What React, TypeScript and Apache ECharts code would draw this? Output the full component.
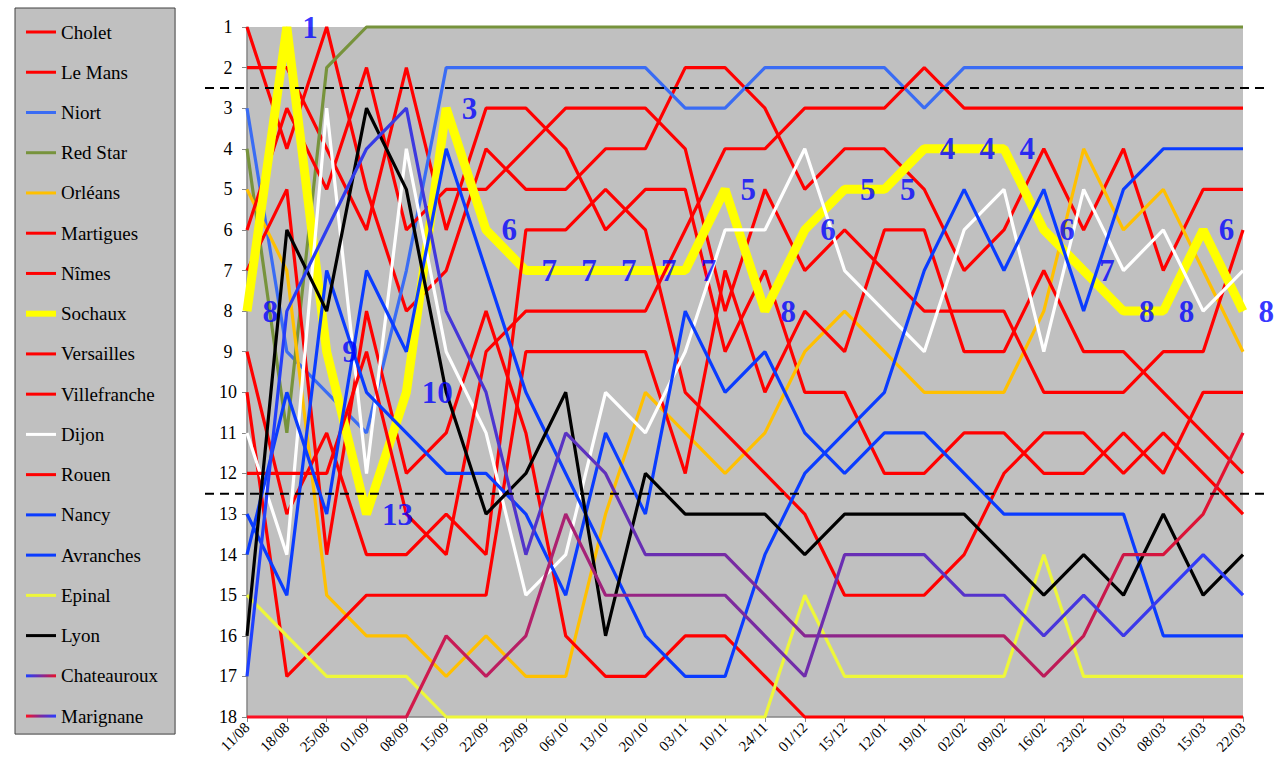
import React, { useEffect, useRef } from "react";
import * as echarts from "echarts";

// Championnat National: rank of every club at each matchday
const dates = [
  "11/08", "18/08", "25/08", "01/09", "08/09", "15/09", "22/09", "29/09", "06/10", "13/10",
  "20/10", "03/11", "10/11", "24/11", "01/12", "15/12", "12/01", "19/01", "02/02", "09/02",
  "16/02", "23/02", "01/03", "08/03", "15/03", "22/03",
];

const cholet = [1, 4, 1, 5, 8, 7, 4, 5, 5, 4, 4, 2, 2, 3, 5, 4, 4, 5, 7, 6, 4, 6, 4, 7, 5, 5];
const leMans = [2, 2, 4, 6, 2, 6, 3, 3, 4, 6, 5, 5, 9, 7, 10, 10, 12, 12, 11, 11, 12, 12, 11, 12, 10, 10];
const niort = [3, 9, 10, 11, 7, 2, 2, 2, 2, 2, 2, 3, 3, 2, 2, 2, 2, 3, 2, 2, 2, 2, 2, 2, 2, 2];
const redStar = [4, 11, 2, 1, 1, 1, 1, 1, 1, 1, 1, 1, 1, 1, 1, 1, 1, 1, 1, 1, 1, 1, 1, 1, 1, 1];
const orleans = [5, 7, 15, 16, 16, 17, 16, 17, 17, 13, 10, 11, 12, 11, 9, 8, 9, 10, 10, 10, 8, 4, 6, 5, 7, 9];
const martigues = [6, 3, 5, 2, 6, 5, 5, 4, 3, 3, 3, 4, 8, 5, 7, 6, 7, 8, 8, 8, 10, 10, 10, 9, 9, 6];
const nimes = [7, 5, 14, 8, 12, 11, 8, 11, 16, 17, 17, 16, 16, 17, 18, 18, 18, 18, 18, 18, 18, 18, 18, 18, 18, 18];
const sochaux = [8, 1, 9, 13, 10, 3, 6, 7, 7, 7, 7, 7, 5, 8, 6, 5, 5, 4, 4, 4, 6, 7, 8, 8, 6, 8];
const versailles = [9, 13, 11, 14, 14, 13, 14, 6, 6, 5, 6, 10, 11, 12, 13, 15, 15, 15, 14, 12, 11, 11, 12, 11, 12, 13];
const villefranche = [10, 17, 16, 15, 15, 15, 15, 9, 9, 9, 9, 12, 7, 10, 8, 9, 6, 6, 9, 9, 7, 9, 9, 10, 11, 12];
const dijon = [11, 14, 3, 12, 4, 9, 11, 15, 14, 10, 11, 9, 6, 6, 4, 7, 8, 9, 6, 5, 9, 5, 7, 6, 8, 7];
const rouen = [12, 12, 12, 9, 13, 14, 9, 8, 8, 8, 8, 6, 4, 4, 3, 3, 3, 2, 3, 3, 3, 3, 3, 3, 3, 3];
const nancy = [13, 15, 7, 10, 11, 12, 12, 13, 15, 11, 13, 8, 10, 9, 11, 12, 11, 11, 12, 13, 13, 13, 13, 16, 16, 16];
const avranches = [14, 10, 13, 7, 9, 4, 7, 10, 12, 14, 16, 17, 17, 14, 12, 11, 10, 7, 5, 7, 5, 8, 5, 4, 4, 4];
const epinal = [15, 16, 17, 17, 17, 18, 18, 18, 18, 18, 18, 18, 18, 18, 15, 17, 17, 17, 17, 17, 14, 17, 17, 17, 17, 17];
const lyon = [16, 6, 8, 3, 5, 10, 13, 12, 10, 16, 12, 13, 13, 13, 14, 13, 13, 13, 13, 14, 15, 14, 15, 13, 15, 14];
const chateauroux = [17, 8, 6, 4, 3, 8, 10, 14, 11, 12, 14, 14, 14, 15, 16, 16, 16, 16, 16, 16, 17, 16, 14, 14, 13, 11];
const marignane = [18, 18, 18, 18, 18, 16, 17, 16, 13, 15, 15, 15, 15, 16, 17, 14, 14, 14, 15, 15, 16, 15, 16, 15, 14, 15];

// promotion / relegation limits
const limits = [2.5, 12.5];

const SERIF = "'Liberation Serif', 'DejaVu Serif', serif";
const RED = "#FF0000";

const App = () => {
  const chartRef = useRef<HTMLDivElement>(null);

  useEffect(() => {
    if (!chartRef.current) return;
    const chart = echarts.init(chartRef.current, undefined, { renderer: "svg" });

    const grad = (stops: string[]) =>
      new echarts.graphic.LinearGradient(
        0, 0, 1, 0,
        stops.map((c, i) => ({ offset: i / (stops.length - 1), color: c }))
      );

    const teams: { name: string; data: number[]; color: any }[] = [
      { name: "Cholet", data: cholet, color: RED },
      { name: "Le Mans", data: leMans, color: RED },
      { name: "Niort", data: niort, color: "#3A6CF4" },
      { name: "Red Star", data: redStar, color: "#77933C" },
      { name: "Orléans", data: orleans, color: "#FFC000" },
      { name: "Martigues", data: martigues, color: RED },
      { name: "Nîmes", data: nimes, color: RED },
      { name: "Sochaux", data: sochaux, color: "#FFFF00" },
      { name: "Versailles", data: versailles, color: RED },
      { name: "Villefranche", data: villefranche, color: RED },
      { name: "Dijon", data: dijon, color: "#FFFFFF" },
      { name: "Rouen", data: rouen, color: RED },
      { name: "Nancy", data: nancy, color: "#0A3CFF" },
      { name: "Avranches", data: avranches, color: "#0A3CFF" },
      { name: "Epinal", data: epinal, color: "#EEF73A" },
      { name: "Lyon", data: lyon, color: "#000000" },
      { name: "Chateauroux", data: chateauroux, color: grad(["#1E40FF", "#7A2AA0", "#E8102A"]) },
      { name: "Marignane", data: marignane, color: grad(["#FF1020", "#7A2AA0", "#2A3CFF"]) },
    ];

    const option: any = {
      animation: false,
      backgroundColor: "#FFFFFF",
      grid: {
        left: 247, top: 27, right: 37, bottom: 64,
        show: true, backgroundColor: "#C0C0C0", borderWidth: 0,
      },
      legend: {
        orient: "vertical",
        left: 15,
        top: 8,
        padding: [13, 17, 7, 11],
        backgroundColor: "#C0C0C0",
        borderColor: "#404040",
        borderWidth: 1,
        itemWidth: 30,
        itemHeight: 6,
        itemGap: 18.24,
        symbolKeepAspect: true,
        selectedMode: false,
        textStyle: { fontFamily: SERIF, fontSize: 19, color: "#000", lineHeight: 22 },
        data: teams.map((t) => ({
          name: t.name,
          icon: t.name === "Sochaux" ? "path://M0,0H30V6H0Z" : "path://M0,0H30V3H0Z",
        })),
      },
      xAxis: {
        type: "category",
        data: dates,
        boundaryGap: false,
        axisLine: { lineStyle: { color: "#868686", width: 1.5 } },
        axisTick: { show: true, length: 5, lineStyle: { color: "#868686" } },
        axisLabel: {
          interval: 0, rotate: 45, margin: 8,
          fontFamily: SERIF, fontSize: 15, color: "#000",
        },
        splitLine: { show: false },
      },
      yAxis: {
        type: "value",
        inverse: true,
        min: 1,
        max: 18,
        interval: 1,
        axisLine: { show: true, lineStyle: { color: "#868686", width: 1.5 } },
        axisTick: { show: true, length: 5, lineStyle: { color: "#868686" } },
        axisLabel: { margin: 19, align: "center", fontFamily: SERIF, fontSize: 18, color: "#000" },
        splitLine: { show: false },
      },
      series: [
        ...teams.map((t) => ({
          name: t.name,
          type: "line",
          data: t.data,
          symbol: "none",
          clip: false,
          lineStyle: { color: t.color, width: t.name === "Sochaux" ? 9 : 3.2 },
          itemStyle: { color: t.color },
          emphasis: { disabled: true },
          silent: true,
        })),
        {
          name: "Sochaux rang",
          type: "scatter",
          data: sochaux.map((v, i) => [i, v]),
          symbolSize: 1,
          itemStyle: { color: "#FFFF00" },
          clip: false,
          silent: true,
          z: 5,
          label: {
            show: true,
            position: "right",
            distance: 15,
            formatter: (p: any) => String(p.value[1]),
            color: "#0000FF",
            fontFamily: SERIF,
            fontWeight: "bold",
            fontSize: 31,
          },
        },
      ],
    };

    chart.setOption(option);

    const graphic = limits.map((v) => {
      const y = chart.convertToPixel({ yAxisIndex: 0 }, v) as number;
      return {
        type: "line",
        z: 100,
        silent: true,
        shape: { x1: 205, y1: y, x2: 1270, y2: y },
        style: { stroke: "#000", lineWidth: 2, lineDash: [9, 6] },
      };
    });
    chart.setOption({ graphic });

    return () => {
      chart.dispose();
    };
  }, []);

  return (
    <div
      ref={chartRef}
      style={{ position: "fixed", left: 0, top: 0, width: 1280, height: 781 }}
    />
  );
};

export default App;
